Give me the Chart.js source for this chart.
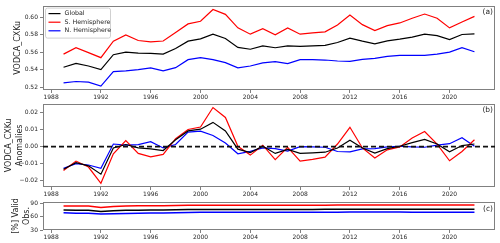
<!DOCTYPE html>
<html><head><meta charset="utf-8">
<script src="https://cdn.jsdelivr.net/npm/chart.js@4/dist/chart.umd.min.js"></script>
<style>
html,body{margin:0;padding:0;background:#fff;width:500px;height:243px;overflow:hidden}
.p{position:absolute;left:0;width:500px}
</style></head><body>
<div class="p" style="top:0;height:103px"><canvas id="ca"></canvas></div>
<div class="p" style="top:98px;height:100px"><canvas id="cb"></canvas></div>
<div class="p" style="top:196px;height:47px"><canvas id="cc"></canvas></div>
<script>
// ---------- DATA ----------
const years = [1989,1990,1991,1992,1993,1994,1995,1996,1997,1998,1999,2000,2001,2002,2003,2004,2005,2006,2007,2008,2009,2010,2011,2012,2013,2014,2015,2016,2017,2018,2019,2020,2021,2022];
const seriesNames = ['Global','S. Hemisphere','N. Hemisphere'];
const xTickLabels = [1988,1992,1996,2000,2004,2008,2012,2016,2020];

// (a) VODCA_CXKu
const globalVod = [0.543,0.5475,0.5445,0.5404,0.5574,0.5604,0.5592,0.5589,0.558,0.5645,0.5728,0.5755,0.5808,0.5758,0.5657,0.5636,0.5675,0.5653,0.5675,0.5668,0.5675,0.568,0.5713,0.5762,0.5728,0.5698,0.5732,0.5751,0.5774,0.5808,0.5792,0.5747,0.5804,0.5811];
const southVod = [0.558,0.5653,0.5598,0.554,0.5728,0.580,0.5736,0.572,0.573,0.5826,0.5925,0.5955,0.609,0.6034,0.588,0.5808,0.587,0.580,0.588,0.5808,0.5823,0.5834,0.5913,0.6026,0.5917,0.585,0.5906,0.5936,0.599,0.6038,0.599,0.588,0.5947,0.6011];
const northVod = [0.5253,0.5268,0.526,0.5215,0.538,0.5389,0.5404,0.5423,0.5389,0.5426,0.5517,0.554,0.5517,0.5483,0.5423,0.5445,0.548,0.5494,0.5472,0.5517,0.5517,0.5513,0.5502,0.5498,0.552,0.5532,0.5555,0.5566,0.5566,0.5566,0.558,0.5604,0.5653,0.5608];
const yTicksA = [0.52,0.54,0.56,0.58,0.60];

// (b) anomalies
const globalAnom = [-0.0133,-0.0094,-0.0113,-0.0162,-0.0008,0.0012,-0.0008,-0.0013,-0.0023,0.004,0.0092,0.0102,0.0142,0.0092,-0.0015,-0.0035,0.0002,-0.004,-0.0017,-0.004,-0.0037,-0.0033,-0.0008,0.0037,-0.0008,-0.0038,-0.0012,0.0002,0.0023,0.0042,0.0015,-0.0031,0.0006,0.0015];
const southAnom = [-0.014,-0.0085,-0.012,-0.0215,-0.0042,0.0035,-0.004,-0.006,-0.0046,0.0046,0.01,0.0115,0.0229,0.0171,0.0002,-0.005,0.0008,-0.0077,-0.0004,-0.0085,-0.0075,-0.0062,0.0015,0.0113,-0.0008,-0.0067,-0.0019,-0.0002,0.005,0.0088,0.0015,-0.0083,-0.0029,0.004];
const northAnom = [-0.0127,-0.01,-0.0108,-0.0127,0.0015,0.0008,0.0012,0.0029,-0.0008,0.0012,0.0085,0.009,0.0065,0.0021,-0.0042,-0.0028,-0.0008,-0.0012,-0.0027,0,-0.0002,-0.0004,-0.0029,-0.0031,-0.0013,-0.0012,-0.0002,0.0002,-0.0002,-0.0004,0.0008,0.0017,0.0052,0.0002];
const yTicksB = [-0.02,-0.01,0.00,0.01,0.02];

// (c) valid observations [%]
const globalValid = [74.5,74,74,71.5,73,74,74,74.5,74.5,75,75.5,76,76,76,76,76,76,76,76,76,76,76.5,76.5,76.5,76.5,76.5,76.5,76.5,76.5,76.5,76.5,76.5,76.5,76.5];
const southValid = [83.5,83.5,83.3,80,82.5,83.5,84,84,84,84.5,85.5,85.5,85.5,85.5,85.5,85.5,85.5,85.5,85.5,85.5,85.5,85.5,86,86,86,86,86,86,86,86,86,86,86,86];
const northValid = [68.5,67.5,67.5,65.5,66.5,67,67.5,68,68,68.5,69,69.5,69.5,69.5,69.5,69.5,69.5,69.5,69.5,69.5,69.5,69.5,69.5,70,70,70,70,70,69.5,69.5,69.5,69.5,69.5,69.5];
const yTicksC = [30,60,90];

// ---------- STYLE ----------
const FONT = '"DejaVu Sans", sans-serif';
const colors = ['#000000','#ff0000','#0000ff'];
const axisGray = '#808080';
const textCol = '#262626';

const pts = arr => arr.map((v,i)=>({x:years[i], y:v}));

const framePlugin = {
  id:'frame',
  afterDraw(chart, args, o){
    const {ctx, chartArea:a} = chart;
    ctx.save();
    ctx.strokeStyle = axisGray; ctx.lineWidth = 1;
    ctx.strokeRect(Math.round(a.left)+0.5, Math.round(a.top)+0.5, Math.round(a.right-a.left)-1, Math.round(a.bottom-a.top)-1);
    if (o.label){
      ctx.fillStyle = textCol; ctx.font = '7.5px ' + FONT;
      ctx.textAlign = 'right'; ctx.textBaseline = 'middle';
      ctx.fillText(o.label, a.right-2, a.top + (o.labelDy||6));
    }
    if (o.zeroLine){
      const y = chart.scales.y.getPixelForValue(0);
      ctx.strokeStyle = '#111'; ctx.lineWidth = 1.8; ctx.setLineDash([5,3]);
      ctx.beginPath(); ctx.moveTo(a.left, y); ctx.lineTo(a.right, y); ctx.stroke();
      ctx.setLineDash([]);
    }
    if (o.legend){
      const x0 = a.left + 2.5, y0 = a.top + 2.5, w = 65, h = 30;
      ctx.fillStyle = 'rgba(255,255,255,0.85)';
      ctx.strokeStyle = '#d0d0d0'; ctx.lineWidth = 1;
      ctx.beginPath(); ctx.roundRect(x0, y0, w, h, 2); ctx.fill(); ctx.stroke();
      chart.data.datasets.forEach((ds, i) => {
        const yy = y0 + 5.5 + i*8.6;
        ctx.strokeStyle = ds.borderColor; ctx.lineWidth = 1.2;
        ctx.beginPath(); ctx.moveTo(x0+3, yy); ctx.lineTo(x0+15, yy); ctx.stroke();
        ctx.fillStyle = textCol; ctx.font = '6.3px ' + FONT;
        ctx.textAlign = 'left'; ctx.textBaseline = 'middle';
        ctx.fillText(ds.label, x0+19, yy);
      });
    }
    ctx.restore();
  }
};

function fmtY(dec){ return v => v.toFixed(dec).replace('-', '\u2212'); }

function makePanel(id, series, yMin, yMax, yTicks, dec, title, titlePad, xHeight, padTop, frameOpts, lw){
  new Chart(document.getElementById(id), {
    type:'line',
    data:{ datasets: series.map((s,i)=>({
      label: seriesNames[i], data: pts(s), borderColor: colors[i], borderWidth: lw,
      pointRadius:0, tension:0, fill:false
    }))},
    options:{
      responsive:true, maintainAspectRatio:false, animation:false,
      layout:{padding:{top:padTop, right:5, left:0, bottom:0}},
      plugins:{legend:{display:false}, tooltip:{enabled:false}, frame: frameOpts},
      scales:{
        x:{ type:'linear', min:1987.35, max:2023.65,
          afterBuildTicks: s => { s.ticks = xTickLabels.map(v=>({value:v})); },
          afterFit: s => { s.height = xHeight; },
          ticks:{ callback: v => String(v), font:{family:FONT, size:6}, color:textCol, padding:1, maxRotation:0, autoSkip:false },
          grid:{ drawOnChartArea:false, tickLength:3, color:axisGray },
          border:{ display:false }
        },
        y:{ type:'linear', min:yMin, max:yMax,
          afterBuildTicks: s => { s.ticks = yTicks.map(v=>({value:v})); },
          afterFit: s => { s.width = 43; },
          ticks:{ callback: fmtY(dec), font:{family:FONT, size:6}, color:textCol, padding:2 },
          grid:{ drawOnChartArea:false, tickLength:3, color:axisGray },
          border:{ display:false },
          title:{ display:true, text:title, font:{family:FONT, size:8, lineHeight:1.35}, color:textCol, padding:{top:titlePad, bottom:0} }
        }
      }
    },
    plugins:[framePlugin]
  });
}

makePanel('ca', [globalVod, southVod, northVod], 0.5171, 0.6134, yTicksA, 2, 'VODCA_CXKu', 13, 13, 5, {label:'(a)', legend:true}, 1.2);
makePanel('cb', [globalAnom, southAnom, northAnom], -0.0237, 0.0252, yTicksB, 2, ['VODCA_CXKu','Anomalies'], 4, 11, 5, {label:'(b)', zeroLine:true}, 1.2);
makePanel('cc', [globalValid, southValid, northValid], 30, 92.5, yTicksC, 0, ['[%] Valid','Obs.'], 11, 13, 6, {label:'(c)', labelDy:7}, 1.5);
</script>
</body></html>
